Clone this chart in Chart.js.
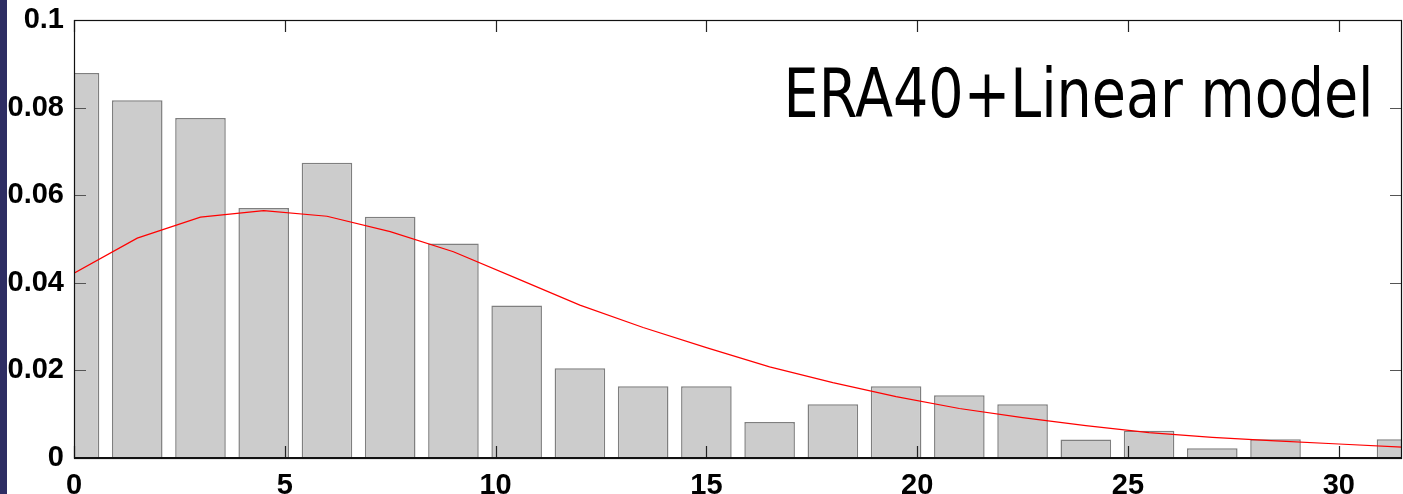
<!DOCTYPE html>
<html>
<head>
<meta charset="utf-8">
<script src="https://cdn.jsdelivr.net/npm/chart.js@4/dist/chart.umd.min.js"></script>
<style>
  html, body { margin: 0; padding: 0; background: #fff; overflow: hidden; }
  #wrap { width: 1403px; height: 494px; }
</style>
</head>
<body>
<div id="wrap"><canvas id="hist" width="1403" height="494"></canvas></div>
<script>
// --- Histogram data (bin centres and relative frequency) ---
const binCenters = [0, 1.5, 3, 4.5, 6, 7.5, 9, 10.5, 12, 13.5, 15, 16.5, 18, 19.5, 21, 22.5, 24, 25.5, 27, 28.5, 30, 31.5];
const frequency = [0.0879, 0.0817, 0.0776, 0.0571, 0.0674, 0.0551, 0.0490, 0.0348, 0.0205, 0.0164, 0.0164,
                   0.0082, 0.0123, 0.0164, 0.0143, 0.0123, 0.0042, 0.0062, 0.0022, 0.0043, 0, 0.0043];
// fitted model curve, evaluated at the same bin centres
const fitCurve = [0.0422, 0.0502, 0.0550, 0.0565, 0.0552, 0.0517, 0.0471, 0.0410, 0.0349, 0.0298, 0.0252,
                  0.0208, 0.0172, 0.0140, 0.0113, 0.0092, 0.0074, 0.0058, 0.0047, 0.0039, 0.0032, 0.0025];
const xTicks = [0, 5, 10, 15, 20, 25, 30];
const yTicks = [0, 0.02, 0.04, 0.06, 0.08, 0.1];
const titleText = 'ERA40+Linear model';

const tickFont = { family: '"Liberation Sans", Arial, sans-serif', size: 29, weight: 'bold' };

// frame, inward ticks, side strip and the in-plot label
const framePlugin = {
  id: 'frame',
  beforeDraw(chart) {
    const c = chart.ctx;
    c.save();
    c.fillStyle = '#fff';
    c.fillRect(0, 0, chart.width, chart.height);
    c.fillStyle = '#2e2d63';
    c.fillRect(0, 0, 7, chart.height);
    c.restore();
  },
  afterDatasetsDraw(chart) {
    const c = chart.ctx;
    const a = chart.chartArea;
    const xs = chart.scales.x, ys = chart.scales.y;
    const tl = 12;
    c.save();
    c.strokeStyle = '#222';
    c.lineWidth = 1.2;
    xTicks.forEach(v => {
      const px = Math.round(xs.getPixelForValue(v)) + 0.5;
      c.beginPath();
      c.moveTo(px, a.bottom); c.lineTo(px, a.bottom - tl);
      c.moveTo(px, a.top); c.lineTo(px, a.top + tl);
      c.stroke();
    });
    c.strokeStyle = '#555';
    yTicks.forEach(v => {
      const py = Math.round(ys.getPixelForValue(v)) + 0.5;
      c.beginPath();
      c.moveTo(a.left, py); c.lineTo(a.left + tl, py);
      c.moveTo(a.right, py); c.lineTo(a.right - tl, py);
      c.stroke();
    });
    c.strokeStyle = '#111';
    c.lineWidth = 1.2;
    c.strokeRect(Math.round(a.left) + 0.5, Math.round(a.top) + 0.5,
                 Math.round(a.right - a.left) - 1, Math.round(a.bottom - a.top));
    c.lineWidth = 2;
    c.beginPath();
    c.moveTo(a.left, a.bottom); c.lineTo(a.right, a.bottom);
    c.stroke();

    // label
    c.fillStyle = '#000';
    c.font = '68px "DejaVu Sans", sans-serif';
    c.textBaseline = 'alphabetic';
    c.textAlign = 'left';
    c.fillText(titleText, xs.getPixelForValue(16.83), ys.getPixelForValue(0.0779), 590);
    c.restore();
  }
};

new Chart(document.getElementById('hist'), {
  type: 'bar',
  data: {
    datasets: [
      {
        type: 'line',
        data: binCenters.map((x, i) => ({ x, y: fitCurve[i] })),
        borderColor: '#ff0000',
        borderWidth: 1.2,
        pointRadius: 0,
        tension: 0,
        fill: false,
        order: 0
      },
      {
        type: 'bar',
        data: binCenters.map((x, i) => ({ x, y: frequency[i] })),
        backgroundColor: '#cccccc',
        borderColor: '#7f7f7f',
        borderWidth: 1.5,
        barPercentage: 1,
        categoryPercentage: 0.8,
        order: 1
      }
    ]
  },
  options: {
    responsive: false,
    animation: false,
    layout: { padding: { top: 20, right: 1, left: 0, bottom: 0 } },
    plugins: { legend: { display: false }, tooltip: { enabled: false } },
    scales: {
      x: {
        type: 'linear',
        min: 0,
        max: 31.5,
        offset: false,
        grid: { display: false, drawTicks: false },
        border: { display: false },
        afterBuildTicks(scale) { scale.ticks = xTicks.map(v => ({ value: v })); },
        afterFit(scale) { scale.height = 36; scale.paddingLeft = 0; scale.paddingRight = 0; },
        ticks: { color: '#000', font: tickFont, padding: 11, maxRotation: 0, autoSkip: false }
      },
      y: {
        min: 0,
        max: 0.1,
        grid: { display: false, drawTicks: false },
        border: { display: false },
        afterBuildTicks(scale) { scale.ticks = yTicks.map(v => ({ value: v })); },
        afterFit(scale) { scale.width = 74; scale.paddingTop = 0; scale.paddingBottom = 0; },
        ticks: { color: '#000', font: tickFont, padding: 10, callback: v => String(v) }
      }
    }
  },
  plugins: [framePlugin]
});
</script>
</body>
</html>
